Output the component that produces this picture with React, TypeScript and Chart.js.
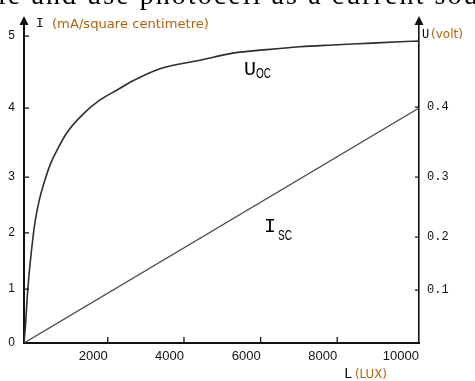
import React, { useEffect, useRef } from 'react';
import { Chart, registerables, LinearScale } from 'chart.js';

// ---------- data ----------
const UOC_LUX = [0, 36, 72, 119, 179, 263, 366, 478, 621, 812, 1020, 1410, 1816, 2244, 2663, 3371, 4417, 5278, 6164, 7026, 7888, 8727, 9535, 10000];
const UOC_VOLT = [0, 0.034, 0.081, 0.128, 0.175, 0.225, 0.262, 0.29, 0.317, 0.341, 0.363, 0.39, 0.41, 0.424, 0.437, 0.454, 0.466, 0.476, 0.481, 0.485, 0.4875, 0.4898, 0.492, 0.493];
const ISC_LUX = [0, 10000];
const ISC_MA = [0, 4.0];

const X_TICKS = [2000, 4000, 6000, 8000, 10000];
const Y_TICKS = [0, 1, 2, 3, 4, 5];
const Y2_TICKS = [0.1, 0.2, 0.3, 0.4];
const Y2_TICK_LABELS = ['0.1', '0.2', '0.3', '0.4'];

// ---------- hand-drawn (non-uniform) axis graduation: value -> fraction of axis length ----------
const SCALE_STOPS: Record<string, { values: number[]; fracs: number[] }> = {
  x: { values: [0, 2000, 4000, 6000, 8000, 10000], fracs: [0, 0.212, 0.405, 0.599, 0.793, 1] },
  y: { values: [0, 1, 2, 3, 4, 5, 5.19], fracs: [0, 0.168, 0.343, 0.517, 0.732, 0.956, 1] },
  y2: { values: [0, 0.1, 0.2, 0.3, 0.4, 0.5, 0.52], fracs: [0, 0.165, 0.33, 0.517, 0.735, 0.956, 1] },
};

function interp(xs: number[], ys: number[], v: number) {
  const n = xs.length;
  if (v <= xs[0]) return ys[0] + ((v - xs[0]) * (ys[1] - ys[0])) / (xs[1] - xs[0]);
  for (let i = 1; i < n; i++) {
    if (v <= xs[i]) return ys[i - 1] + ((v - xs[i - 1]) * (ys[i] - ys[i - 1])) / (xs[i] - xs[i - 1]);
  }
  return ys[n - 2] + ((v - xs[n - 2]) * (ys[n - 1] - ys[n - 2])) / (xs[n - 1] - xs[n - 2]);
}

class PiecewiseScale extends LinearScale {
  static id = 'piecewise';
  getPixelForValue(value: any) {
    if (value === null || value === undefined || isNaN(value)) return NaN;
    const s = SCALE_STOPS[(this as any).id];
    return (this as any).getPixelForDecimal(interp(s.values, s.fracs, value));
  }
  getValueForPixel(pixel: number) {
    const s = SCALE_STOPS[(this as any).id];
    return interp(s.fracs, s.values, (this as any).getDecimalForPixel(pixel));
  }
}

Chart.register(...registerables, PiecewiseScale);

const AXIS = '#111';

const decorPlugin = {
  id: 'decor',
  afterDraw(chart: any) {
    const { ctx, chartArea: ca, scales } = chart;
    ctx.save();
    ctx.strokeStyle = AXIS;
    ctx.lineWidth = 1.3;
    ctx.beginPath();
    for (const v of Y_TICKS) {
      if (v === 0) continue;
      const p = scales.y.getPixelForValue(v);
      ctx.moveTo(ca.left, p);
      ctx.lineTo(ca.left + 5, p);
    }
    for (const v of Y2_TICKS) {
      const p = scales.y2.getPixelForValue(v);
      ctx.moveTo(ca.right - 4, p);
      ctx.lineTo(ca.right, p);
    }
    for (const v of X_TICKS) {
      if (v === 10000) continue;
      const p = scales.x.getPixelForValue(v);
      ctx.moveTo(p, ca.bottom);
      ctx.lineTo(p, ca.bottom - 6);
    }
    ctx.stroke();
    ctx.fillStyle = AXIS;
    for (const xx of [ca.left, ca.right]) {
      ctx.beginPath();
      ctx.moveTo(xx, ca.top - 6);
      ctx.lineTo(xx - 4.5, ca.top + 3);
      ctx.lineTo(xx + 4.5, ca.top + 3);
      ctx.closePath();
      ctx.fill();
    }
    ctx.restore();
  },
};

const LABEL_COLOR = '#ad6410';

export default function App() {
  const ref = useRef<HTMLCanvasElement>(null);
  useEffect(() => {
    if (!ref.current) return;
    const chart = new Chart(ref.current, {
      type: 'line',
      data: {
        datasets: [
          {
            label: 'Uoc',
            data: UOC_LUX.map((x, i) => ({ x, y: UOC_VOLT[i] })),
            yAxisID: 'y2',
            borderColor: '#2e2e2e',
            borderWidth: 1.6,
            pointRadius: 0,
            cubicInterpolationMode: 'monotone',
            fill: false,
          },
          {
            label: 'Isc',
            data: ISC_LUX.map((x, i) => ({ x, y: ISC_MA[i] })),
            yAxisID: 'y',
            borderColor: '#4a4a4a',
            borderWidth: 1.3,
            pointRadius: 0,
            fill: false,
          },
        ],
      },
      options: {
        animation: false,
        responsive: false,
        maintainAspectRatio: false,
        layout: { padding: { top: 22, left: 0, right: 0, bottom: 0 } },
        plugins: { legend: { display: false }, tooltip: { enabled: false }, title: { display: false } },
        scales: {
          x: {
            type: 'piecewise' as any,
            position: 'bottom',
            min: 0,
            max: 10000,
            grid: { display: false, drawTicks: false, drawOnChartArea: false },
            border: { display: true, color: AXIS, width: 2 },
            ticks: {
              align: 'end',
              padding: 6,
              autoSkip: false,
              maxRotation: 0,
              color: '#111',
              font: { family: '"Liberation Sans", Arial, sans-serif', size: 13 },
              callback: (v: any) => String(v),
            },
            afterBuildTicks: (s: any) => {
              s.ticks = X_TICKS.map((value) => ({ value }));
            },
            afterFit: (s: any) => {
              s.height = 38;
            },
          } as any,
          y: {
            type: 'piecewise' as any,
            position: 'left',
            min: 0,
            max: 5.19,
            grid: { display: false, drawTicks: false, drawOnChartArea: false },
            border: { display: true, color: AXIS, width: 2 },
            ticks: {
              padding: 9,
              autoSkip: false,
              color: '#111',
              font: { family: '"Liberation Sans", Arial, sans-serif', size: 12 },
              callback: (v: any) => String(v),
            },
            afterBuildTicks: (s: any) => {
              s.ticks = Y_TICKS.map((value) => ({ value }));
            },
            afterFit: (s: any) => {
              s.width = 24;
            },
          } as any,
          y2: {
            type: 'piecewise' as any,
            position: 'right',
            min: 0,
            max: 0.52,
            grid: { display: false, drawTicks: false, drawOnChartArea: false },
            border: { display: true, color: AXIS, width: 1.6 },
            ticks: {
              padding: 8,
              autoSkip: false,
              color: '#111',
              font: { family: '"Liberation Mono", monospace', size: 12 },
              callback: (_v: any, i: number) => Y2_TICK_LABELS[i],
            },
            afterBuildTicks: (s: any) => {
              s.ticks = Y2_TICKS.map((value) => ({ value }));
            },
            afterFit: (s: any) => {
              s.width = 56;
            },
          } as any,
        },
      } as any,
      plugins: [decorPlugin],
    });
    return () => chart.destroy();
  }, []);

  return (
    <div style={{ position: 'fixed', left: 0, top: 0, width: 475, height: 381, overflow: 'hidden', background: '#fff' }}>
      <canvas ref={ref} width={475} height={381} style={{ position: 'absolute', left: 0, top: 0, width: 475, height: 381 }} />
      <svg width={475} height={381} style={{ position: 'absolute', left: 0, top: 0, pointerEvents: 'none' }}>
        <text x={-2} y={4} fontFamily='"Liberation Serif", serif' fontSize={28} fill="#000" textLength={520}>
          le and use photocell as a current source
        </text>
        <text x={36} y={27} fontFamily='"Liberation Mono", monospace' fontSize={13} fill="#000">I</text>
        <text x={52} y={28} fontFamily='"DejaVu Sans", sans-serif' fontSize={13} fill={LABEL_COLOR} textLength={157} lengthAdjust="spacingAndGlyphs">
          (mA/square centimetre)
        </text>
        <text x={422} y={38} fontFamily='"Liberation Mono", monospace' fontSize={12} fill="#000">U</text>
        <text x={431} y={38} fontFamily='"DejaVu Sans", sans-serif' fontSize={12} fill={LABEL_COLOR}>(volt)</text>
        <text x={344} y={378} fontFamily='"Liberation Mono", monospace' fontSize={14} fill="#000">L</text>
        <text x={355} y={378} fontFamily='"DejaVu Sans", sans-serif' fontSize={12} fill={LABEL_COLOR} textLength={32} lengthAdjust="spacingAndGlyphs">
          (LUX)
        </text>
        <text x={244} y={75} fontFamily='"Liberation Mono", monospace' fontSize={20} fill="#000">U</text>
        <text x={256} y={78} fontFamily='"Liberation Sans", sans-serif' fontSize={15} fill="#000" textLength={15} lengthAdjust="spacingAndGlyphs">OC</text>
        <text x={264} y={232} fontFamily='"Liberation Mono", monospace' fontSize={20} fill="#000">I</text>
        <text x={278} y={240} fontFamily='"Liberation Sans", sans-serif' fontSize={14} fill="#000" textLength={14} lengthAdjust="spacingAndGlyphs">SC</text>
      </svg>
    </div>
  );
}
